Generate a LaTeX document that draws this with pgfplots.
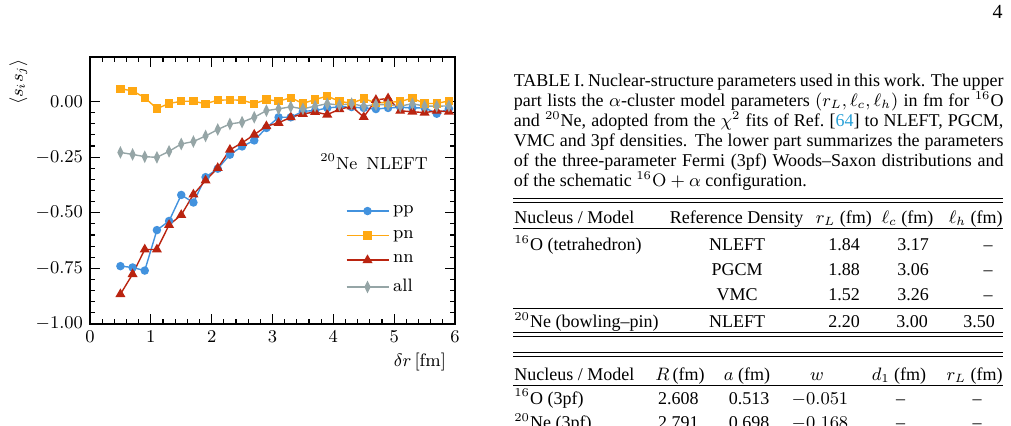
\documentclass[border=0pt]{standalone}
\usepackage{pgfplots}
\pgfplotsset{compat=1.18}
\usepackage{fontspec}
\newfontfamily\tnr[Ligatures=TeX]{Liberation Serif}
\definecolor{cpp}{RGB}{66,146,222}
\definecolor{cpn}{RGB}{255,168,18}
\definecolor{cnn}{RGB}{186,36,16}
\definecolor{call}{RGB}{149,165,166}
\definecolor{clink}{RGB}{40,160,215}
\begin{document}
\begin{tikzpicture}
\path[use as bounding box] (0,0) rectangle (505.5pt,213pt);
\begin{axis}[
  at={(45pt,51pt)}, anchor=south west,
  scale only axis, width=182.5pt, height=133.5pt,
  xmin=0, xmax=6, ymin=-1, ymax=0.2,
  xtick={0,1,2,3,4,5,6}, ytick={-1,-0.75,-0.5,-0.25,0},
  minor x tick num=4, minor y tick num=4,
  yticklabel={\pgfmathprintnumber[fixed,fixed zerofill,precision=2]{\tick}},
  xticklabel={\pgfmathprintnumber[fixed,precision=0]{\tick}},
  tick align=inside, major tick length=5pt, minor tick length=2.5pt,
  every tick/.style={black, line width=0.6pt},
  axis line style={line width=0.8pt},
  ticklabel style={font=\fontsize{9}{10}\selectfont},
  label style={font=\fontsize{9}{10}\selectfont},
  xlabel={$\delta r\,[\mathrm{fm}]$},
  xlabel style={at={(rel axis cs:1,0)}, anchor=base east, yshift=-21.5pt, xshift=-1pt},
  ylabel={$\langle s_i s_j\rangle$},
  ylabel style={at={(rel axis cs:0,0.906)}, anchor=center, yshift=35.75pt},
  every axis plot/.append style={line width=0.7pt},
  legend style={at={(axis cs:4.1,-0.43)}, anchor=north west, draw=none, fill=none,
    font=\fontsize{9}{10}\selectfont, row sep=2.8pt, cells={anchor=west}},
  legend image code/.code={\draw[mark repeat=2,mark phase=2] plot coordinates {(0pt,0pt) (10.5pt,0pt) (21pt,0pt)};},
]
\addplot[color=cpp, mark=*, mark size=1.75pt] coordinates {
(0.5,-0.740)(0.7,-0.746)(0.9,-0.760)(1.1,-0.578)(1.3,-0.537)(1.5,-0.420)(1.7,-0.454)
(1.9,-0.340)(2.1,-0.302)(2.3,-0.239)(2.5,-0.202)(2.7,-0.175)(2.9,-0.119)(3.1,-0.071)
(3.3,-0.071)(3.5,-0.044)(3.7,-0.041)(3.9,-0.029)(4.1,-0.024)(4.3,-0.025)(4.5,-0.029)
(4.7,-0.034)(4.9,-0.029)(5.1,-0.026)(5.3,-0.029)(5.5,-0.028)(5.7,-0.055)(5.9,-0.032)};
\addlegendentry{pp}
\addplot[color=cpn, mark=square*, mark size=1.75pt] coordinates {
(0.5,0.057)(0.7,0.048)(0.9,0.017)(1.1,-0.032)(1.3,-0.009)(1.5,0.001)(1.7,0.001)
(1.9,-0.010)(2.1,0.006)(2.3,0.007)(2.5,0.006)(2.7,-0.010)(2.9,0.009)(3.1,0.001)
(3.3,0.017)(3.5,-0.009)(3.7,0.009)(3.9,0.024)(4.1,0.001)(4.3,-0.008)(4.5,0.013)
(4.7,-0.006)(4.9,-0.004)(5.1,0.000)(5.3,0.015)(5.5,-0.009)(5.7,-0.009)(5.9,0.003)};
\addlegendentry{pn}
\addplot[color=cnn, mark=triangle*, mark size=2.2pt] coordinates {
(0.5,-0.866)(0.7,-0.776)(0.9,-0.665)(1.1,-0.665)(1.3,-0.555)(1.5,-0.510)(1.7,-0.418)
(1.9,-0.355)(2.1,-0.299)(2.3,-0.217)(2.5,-0.186)(2.7,-0.149)(2.9,-0.111)(3.1,-0.096)
(3.3,-0.071)(3.5,-0.056)(3.7,-0.047)(3.9,-0.059)(4.1,-0.035)(4.3,-0.022)(4.5,-0.070)
(4.7,0.007)(4.9,0.014)(5.1,-0.042)(5.3,-0.046)(5.5,-0.050)(5.7,-0.042)(5.9,-0.046)};
\addlegendentry{nn}
\addplot[color=call, mark=diamond*, mark size=2.4pt, mark options={xscale=0.65}] coordinates {
(0.5,-0.229)(0.7,-0.238)(0.9,-0.248)(1.1,-0.251)(1.3,-0.224)(1.5,-0.191)(1.7,-0.180)
(1.9,-0.155)(2.1,-0.126)(2.3,-0.101)(2.5,-0.093)(2.7,-0.071)(2.9,-0.041)(3.1,-0.033)
(3.3,-0.024)(3.5,-0.033)(3.7,-0.021)(3.9,-0.010)(4.1,-0.016)(4.3,-0.010)(4.5,-0.021)
(4.7,-0.014)(4.9,-0.014)(5.1,-0.021)(5.3,-0.010)(5.5,-0.021)(5.7,-0.021)(5.9,-0.020)};
\addlegendentry{all}
\node[anchor=base west, inner sep=0, font=\fontsize{8.7}{10}\selectfont] at (axis cs:3.78,-0.304) {$^{20}\mathrm{Ne}$\hspace{4.5pt}NLEFT};
\end{axis}
\begin{scope}[x=0.5pt, y=-0.5pt, shift={(0,213pt)}, every node/.style={inner sep=0, font=\tnr\fontsize{9}{10}\selectfont}]
\node[anchor=base east, font=\tnr\fontsize{10}{12}\selectfont] at (1003,18.3) {4};
\node[anchor=base west] at (513.5,86.7) {\parbox[t]{244.8pt}{\tnr\fontsize{9}{10}\selectfont
TABLE I. Nuclear-structure parameters used in this work. The upper\linebreak
part lists the $\alpha$-cluster model parameters $(r_L,\ell_c,\ell_h)$ in fm for $^{16}$O\linebreak
and $^{20}$Ne, adopted from the $\chi^2$ fits of Ref.~[{\color{clink}64}] to NLEFT, PGCM,\linebreak
VMC and 3pf densities. The lower part summarizes the parameters\linebreak
of the three-parameter Fermi (3pf) Woods--Saxon distributions and\linebreak
of the schematic $^{16}\mathrm{O}+\alpha$ configuration.}};
% rules
\draw[line width=0.5pt] (513,199) -- (1003,199);
\draw[line width=0.5pt] (513,202.5) -- (1003,202.5);
\draw[line width=0.4pt] (513,228) -- (1003,228);
\draw[line width=0.4pt] (513,308) -- (1003,308);
\draw[line width=0.5pt] (513,333) -- (1003,333);
\draw[line width=0.5pt] (513,336.5) -- (1003,336.5);
\draw[line width=0.5pt] (513,353) -- (1003,353);
\draw[line width=0.5pt] (513,356.5) -- (1003,356.5);
\draw[line width=0.4pt] (513,385) -- (1003,385);
% table 1
\node[anchor=base west] at (514,223.3) {Nucleus / Model};
\node[anchor=base] at (736.7,223.3) {Reference Density};
\node[anchor=base] at (843.8,223.3) {$r_L$ (fm)};
\node[anchor=base] at (907.5,223.3) {$\ell_c$ (fm)};
\node[anchor=base east] at (1003,223.3) {$\ell_h$ (fm)};
\node[anchor=base west] at (514,251) {$^{16}$O (tetrahedron)};
\node[anchor=base] at (737,251) {NLEFT};
\node[anchor=base] at (844,251) {1.84};
\node[anchor=base] at (913,251) {3.17};
\node[anchor=base] at (988,251) {--};
\node[anchor=base] at (737,275.3) {PGCM};
\node[anchor=base] at (844,275.3) {1.88};
\node[anchor=base] at (913,275.3) {3.06};
\node[anchor=base] at (988,275.3) {--};
\node[anchor=base] at (737,300.7) {VMC};
\node[anchor=base] at (844,300.7) {1.52};
\node[anchor=base] at (913,300.7) {3.26};
\node[anchor=base] at (988,300.7) {--};
\node[anchor=base west] at (514,327.7) {$^{20}$Ne (bowling--pin)};
\node[anchor=base] at (737,327.7) {NLEFT};
\node[anchor=base] at (844,327.7) {2.20};
\node[anchor=base] at (912,327.7) {3.00};
\node[anchor=base] at (979,327.7) {3.50};
% table 2
\node[anchor=base west] at (514,381) {Nucleus / Model};
\node[anchor=base] at (680,381) {$R$\,(fm)};
\node[anchor=base] at (747,381) {$a$ (fm)};
\node[anchor=base] at (817,381) {$w$};
\node[anchor=base] at (899,381) {$d_1$ (fm)};
\node[anchor=base east] at (1003,381) {$r_L$ (fm)};
\node[anchor=base west] at (514,404.3) {$^{16}$O (3pf)};
\node[anchor=base] at (678.3,404.3) {2.608};
\node[anchor=base] at (749,404.3) {0.513};
\node[anchor=base] at (820,404.3) {$-0.051$};
\node[anchor=base] at (900.7,404.3) {--};
\node[anchor=base] at (977,404.3) {--};
\node[anchor=base west] at (514,428.8) {$^{20}$Ne (3pf)};
\node[anchor=base] at (678.3,428.8) {2.791};
\node[anchor=base] at (749,428.8) {0.698};
\node[anchor=base] at (820,428.8) {$-0.168$};
\node[anchor=base] at (900.7,428.8) {--};
\node[anchor=base] at (977,428.8) {--};
\end{scope}
\end{tikzpicture}
\end{document}
